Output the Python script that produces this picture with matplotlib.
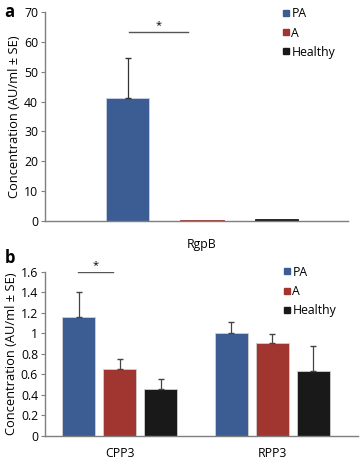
import matplotlib.pyplot as plt
from matplotlib.lines import Line2D

plt.rcParams["font.family"] = ["Open Sans", "DejaVu Sans"]

groups = ["PA", "A", "Healthy"]
colors = ["#3b5d93", "#a1352f", "#191919"]

# panel a: RgpB
a_category = "RgpB"
a_means = [41.3, 0.5, 0.8]
a_upper = [54.7, None, None]

# panel b: CPP3 / RPP3
b_categories = ["CPP3", "RPP3"]
b_means = {
    "PA": [1.16, 1.005],
    "A": [0.655, 0.90],
    "Healthy": [0.46, 0.63],
}
b_upper = {
    "PA": [1.40, 1.11],
    "A": [0.75, 0.995],
    "Healthy": [0.55, 0.88],
}

fig = plt.figure(figsize=(3.6, 4.61), dpi=100)
ax_a = fig.add_axes([0.125, 0.5206, 0.842, 0.4534])
ax_b = fig.add_axes([0.125, 0.0542, 0.869, 0.3568])

spine_col = "#7f7f7f"
fs = 8.8


def style_axis(ax, xpad):
    for side in ["top", "right"]:
        ax.spines[side].set_visible(False)
    for side in ["left", "bottom"]:
        ax.spines[side].set_color(spine_col)
        ax.spines[side].set_linewidth(1.0)
    ax.tick_params(axis="y", direction="out", length=3, color=spine_col,
                   labelsize=fs, pad=2)
    ax.tick_params(axis="x", length=0, labelsize=fs, pad=xpad)
    ax.set_ylabel("Concentration (AU/ml \u00b1 SE)", fontsize=9.3, labelpad=2)


def add_legend(ax, anchor):
    handles = [Line2D([], [], marker="s", linestyle="none", markersize=5,
                      markerfacecolor=c, markeredgecolor=c) for c in colors]
    ax.legend(handles, groups, loc="upper left", bbox_to_anchor=anchor,
              frameon=False, fontsize=fs, handletextpad=0.0,
              labelspacing=0.5, handlelength=0.9, borderaxespad=0)


# ---- panel a ----
a_offsets = [-0.245, 0.0, 0.245]
for i, g in enumerate(groups):
    x = a_offsets[i]
    ax_a.bar(x, a_means[i], width=0.143, color=colors[i],
             edgecolor="#c9d3e3" if i == 0 else colors[i], linewidth=0.6, zorder=2)
    if a_upper[i] is not None:
        ax_a.errorbar(x, a_means[i], yerr=[[0], [a_upper[i] - a_means[i]]],
                      color="#333333", capsize=2, elinewidth=0.9, zorder=3)
ax_a.set_xlim(-0.518, 0.482)
ax_a.set_ylim(0, 70)
ax_a.set_yticks(range(0, 71, 10))
ax_a.set_xticks([0])
ax_a.set_xticklabels([a_category])
style_axis(ax_a, 12.5)
ax_a.plot([-0.241, -0.046], [63.3, 63.3], color="#555555", lw=1)
ax_a.text(-0.143, 63.6, "*", ha="center", va="bottom", fontsize=8)
add_legend(ax_a, (0.76, 1.045))
fig.text(0.012, 0.973, "a", fontsize=12, fontweight="bold", va="center")

# ---- panel b ----
b_offsets = [-0.268, 0.0, 0.268]
xs = list(range(len(b_categories)))
for i, g in enumerate(groups):
    pos = [x + b_offsets[i] for x in xs]
    means = b_means[g]
    err = [u - m for u, m in zip(b_upper[g], means)]
    ax_b.bar(pos, means, width=0.216, color=colors[i],
             edgecolor="#d0d0d0", linewidth=0.6, zorder=2)
    ax_b.errorbar(pos, means, yerr=[[0] * len(err), err], fmt="none",
                  ecolor="#444444", capsize=2, elinewidth=0.9, zorder=3)
ax_b.set_xlim(-0.49, 1.56)
ax_b.set_ylim(0, 1.6)
ax_b.set_yticks([0, 0.2, 0.4, 0.6, 0.8, 1.0, 1.2, 1.4, 1.6])
ax_b.set_yticklabels(["0", "0.2", "0.4", "0.6", "0.8", "1", "1.2", "1.4", "1.6"])
ax_b.set_xticks(xs)
ax_b.set_xticklabels(b_categories)
style_axis(ax_b, 8)
ax_b.plot([-0.275, -0.045], [1.595, 1.595], color="#555555", lw=1)
ax_b.text(-0.16, 1.6, "*", ha="center", va="bottom", fontsize=8)
add_legend(ax_b, (0.74, 1.065))
fig.text(0.012, 0.44, "b", fontsize=12, fontweight="bold", va="center")

fig.savefig("out.png", dpi=100)
